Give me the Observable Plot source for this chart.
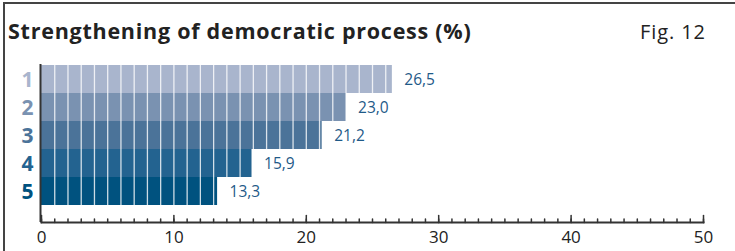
<!DOCTYPE html>
<html>
<head>
<meta charset="utf-8">
<script src="https://cdn.jsdelivr.net/npm/d3@7"></script>
<script src="https://cdn.jsdelivr.net/npm/@observablehq/plot@0.6"></script>
<style>
  html, body { margin: 0; padding: 0; background: #fff; }
  #wrap { position: relative; width: 735px; height: 251px; overflow: hidden; font-family: "Open Sans", Roboto, sans-serif; }
  #border { position: absolute; left: 3px; top: 2px; width: 740px; height: 260px; border-top: 2px solid #444; border-left: 2px solid #444; box-sizing: border-box; }
  #title { position: absolute; left: 8px; top: 18px; font-size: 21.5px; line-height: 26px; font-weight: 700; color: #222; white-space: nowrap; letter-spacing: 0.75px; }
  #fig { position: absolute; left: 640px; top: 19px; font-size: 20px; line-height: 26px; color: #222; white-space: nowrap; letter-spacing: 0.9px; }
  #chart { position: absolute; left: 0; top: 0; }
</style>
</head>
<body>
<div id="wrap">
  <div id="border"></div>
  <div id="title">Strengthening of democratic process (%)</div>
  <div id="fig">Fig. 12</div>
  <div id="chart"></div>
</div>
<script>
const categories = ["1", "2", "3", "4", "5"];
const values = [26.5, 23.0, 21.2, 15.9, 13.3];
const colors = ["#a9b5cd", "#7a92b1", "#4b7399", "#236390", "#00527f"];
const majorTicks = [0, 10, 20, 30, 40, 50];
const minorTicks = d3.range(0, 51, 1);

const data = categories.map((c, i) => ({cat: c, value: values[i]}));
const segs = data.flatMap(d => d3.range(1, Math.ceil(d.value)).map(k => ({cat: d.cat, k})));
const fmt = v => v.toFixed(1).replace(".", ",");
const upTick = {draw(context, l) { context.moveTo(0, 0); context.lineTo(0, -l); }};

const chart = Plot.plot({
  width: 735,
  height: 251,
  marginLeft: 41,
  marginRight: 32,
  marginTop: 64,
  marginBottom: 29,
  style: {fontFamily: "'Open Sans', Roboto, sans-serif", background: "transparent"},
  x: {domain: [0, 50], axis: null},
  y: {domain: categories, range: [64, 206], padding: 0, axis: null},
  color: {domain: categories, range: colors},
  marks: [
    Plot.barX(data, {x: "value", y: "cat", fill: "cat", insetTop: 0, insetBottom: 0}),
    Plot.tickX(segs, {x: "k", y: "cat", stroke: "white", strokeWidth: 1.3, strokeOpacity: 0.8}),
    Plot.text(data, {x: "value", y: "cat", text: d => fmt(d.value), dx: 12, dy: 1, textAnchor: "start", fill: "#1f5a88", fontSize: 15.5}),
    Plot.text(data, {x: 0, y: "cat", text: "cat", dx: -8, dy: 1, textAnchor: "end", fill: "cat", fontSize: 21, fontWeight: 700}),
    Plot.ruleX([0], {stroke: "#333", strokeWidth: 2, dx: -1}),
    Plot.frame({anchor: "bottom", stroke: "#333", strokeWidth: 2}),
    Plot.vector(minorTicks, {x: d => d, frameAnchor: "bottom", length: 3.5, rotate: 0, anchor: "start", shape: upTick, stroke: "#333", strokeWidth: 1.5}),
    Plot.vector(majorTicks, {x: d => d, frameAnchor: "bottom", length: 7, rotate: 0, anchor: "start", shape: upTick, stroke: "#333", strokeWidth: 1.5}),
    Plot.axisX({ticks: majorTicks, tickSize: 0, tickPadding: 8, fontSize: 17, fill: "#222", label: null})
  ]
});
document.getElementById("chart").appendChild(chart);
</script>
</body>
</html>
